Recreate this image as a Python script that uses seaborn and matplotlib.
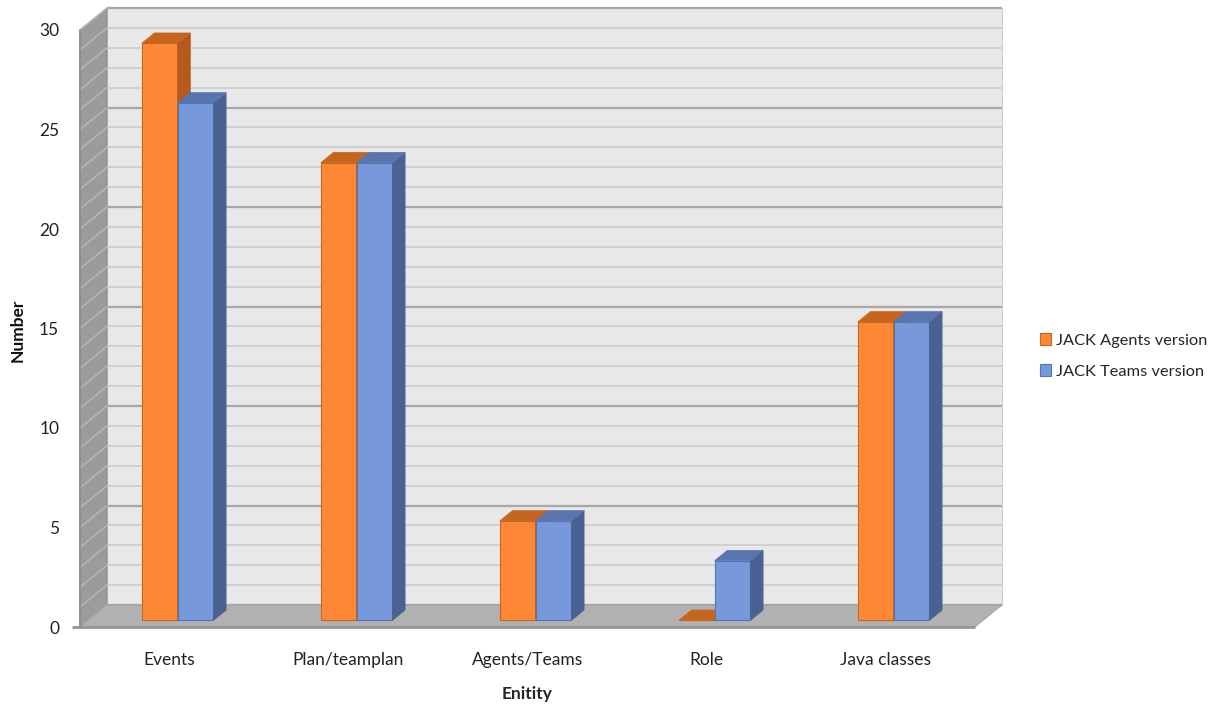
import numpy as np
import pandas as pd
import matplotlib
matplotlib.use("Agg")
import matplotlib.pyplot as plt
from matplotlib.patches import Polygon, Patch, Rectangle
import seaborn as sns

# Chart data
categories = ["Events", "Plan/teamplan", "Agents/Teams", "Role", "Java classes"]
agents_version = [29, 23, 5, 0, 15]
teams_version = [26, 23, 5, 3, 15]
series_names = ["JACK Agents version", "JACK Teams version"]
y_ticks = [0, 5, 10, 15, 20, 25, 30]

front_colors = ["#FF8836", "#7799DB"]
side_colors = ["#B55A1D", "#4A6291"]
top_colors = ["#C7651F", "#5A75AE"]
edge_colors = ["#C8661F", "#5574B5"]

df = pd.DataFrame({
    "Entity": categories * 2,
    "Count": agents_version + teams_version,
    "Series": [series_names[0]] * len(categories) + [series_names[1]] * len(categories),
})

sns.set_style("white")
plt.rcParams["font.family"] = ["Lato", "DejaVu Sans"]
FS = 12.5

W, H = 1223, 705
fig = plt.figure(figsize=(W / 100, H / 100), dpi=100)
ax = fig.add_axes([80 / W, (H - 627) / H, 895 / W, 597 / H])

sns.barplot(data=df, x="Entity", y="Count", hue="Series", palette=front_colors,
            width=0.4, dodge=True, legend=False, ax=ax, saturation=1,
            edgecolor=None, linewidth=0)
ax.set_xlim(-0.5, 4.5)
ax.set_ylim(0, 30)

# Depth vector (pixels) of the 3-D box, converted to data units
px = ax.transData.transform((1, 1)) - ax.transData.transform((0, 0))
DX, DY = 27 / px[0], 22 / px[1]
x0, x1 = -0.5, 4.5
ymax = 30

def poly(pts, **kw):
    p = Polygon(pts, closed=True, clip_on=False, **kw)
    ax.add_patch(p)
    return p

# Back wall
poly([(x0 + DX, DY), (x1 + DX, DY), (x1 + DX, ymax + DY), (x0 + DX, ymax + DY)],
     facecolor="#E8E8E8", edgecolor="#D0D0D0", lw=0.8, zorder=0.5)
# Side wall
poly([(x0, 0), (x0 + DX, DY), (x0 + DX, ymax + DY), (x0, ymax)],
     facecolor="#9B9B9B", edgecolor="#8E8E8E", lw=0.8, zorder=0.6)

for v in range(0, ymax + 1):
    major = v % 5 == 0
    ax.plot([x0 + DX, x1 + DX], [v + DY, v + DY],
            color="#A8A8A8" if major else "#C9C9C9",
            lw=1.6 if major else 1.1, zorder=0.7, clip_on=False,
            solid_capstyle="butt")
    ax.plot([x0, x0 + DX], [v, v + DY], color="#B8B8B8", lw=1.0,
            zorder=0.7, clip_on=False)

# Floor
poly([(x0, 0), (x1, 0), (x1 + DX, DY), (x0 + DX, DY)],
     facecolor="#B1B1B1", edgecolor="#A0A0A0", lw=0.6, zorder=0.8)
ax.plot([x0 - 0.045, x1], [0, 0], color="#959595", lw=2.0, zorder=0.85,
        clip_on=False, solid_capstyle="butt")

# Bars in 3-D: front faces from seaborn, shifted into the box, plus side and top faces
d0, dd = 0.3, 0.47
n = len(categories)
bars = [p for p in ax.patches if isinstance(p, Rectangle)][:2 * n]
bars.sort(key=lambda p: p.get_x())
for bar in bars:
    s = 0 if bar.get_facecolor()[0] > 0.8 else 1
    x = bar.get_x() + d0 * DX
    w = bar.get_width()
    h = bar.get_height()
    yb = d0 * DY
    bar.set_x(x)
    bar.set_y(yb)
    bar.set_edgecolor(edge_colors[s])
    bar.set_linewidth(0.8)
    bar.set_zorder(2 + bar.get_x())
    z = bar.get_zorder()
    sx, sy = dd * DX, dd * DY
    poly([(x + w, yb), (x + w, yb + h), (x + w + sx, yb + h + sy), (x + w + sx, yb + sy)],
         facecolor=side_colors[s], edgecolor=side_colors[s], lw=0.5, zorder=z)
    poly([(x, yb + h), (x + w, yb + h), (x + w + sx, yb + h + sy), (x + sx, yb + h + sy)],
         facecolor=top_colors[s], edgecolor=top_colors[s], lw=0.5, zorder=z)

# Axes styling
for side in ["top", "right", "bottom"]:
    ax.spines[side].set_visible(False)
ax.spines["left"].set_color("#8C8C8C")
ax.spines["left"].set_linewidth(1.2)
ax.set_yticks(y_ticks)
ax.set_yticklabels([str(t) for t in y_ticks])
ax.tick_params(axis="y", length=7, width=1.2, color="#8C8C8C", pad=8,
               labelsize=FS, labelcolor="#222222")
ax.set_xticks(range(n))
ax.set_xticklabels(categories)
ax.tick_params(axis="x", length=0, pad=18, labelsize=FS, labelcolor="#222222")
ax.set_facecolor("none")
ax.set_xlabel("Enitity", fontsize=FS, fontweight="bold", labelpad=13)
ax.set_ylabel("")
fig.text(18 / W, 1 - 330 / H, "Number", rotation=90, ha="center", va="center",
         fontsize=FS, fontweight="bold", color="#111111")

handles = [Patch(facecolor=front_colors[i], edgecolor=edge_colors[i], lw=0.8)
           for i in range(2)]
fig.legend(handles, series_names, loc="center left",
           bbox_to_anchor=(1040 / W, 1 - 356 / H), frameon=False, fontsize=11.8,
           handlelength=0.7, handleheight=0.7, handletextpad=0.25,
           labelspacing=1.0, borderpad=0, borderaxespad=0)

fig.savefig("out.png", dpi=100, facecolor="white")
